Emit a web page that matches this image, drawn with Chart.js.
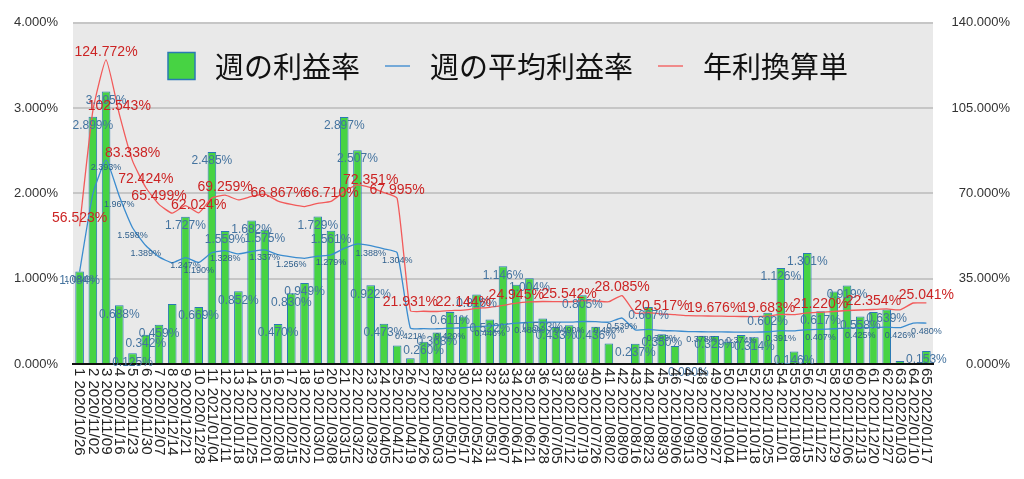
<!DOCTYPE html>
<html>
<head>
<meta charset="utf-8">
<script src="https://cdn.jsdelivr.net/npm/chart.js@4.4.1/dist/chart.umd.min.js"></script>
<style>
  html, body { margin: 0; padding: 0; background: #fff; }
</style>
</head>
<body>
<canvas id="chart" width="1024" height="479"></canvas>
<script>
// week labels
const weeks = [
  "1 2020/10/26", "2 2020/11/02", "3 2020/11/09", "4 2020/11/16", "5 2020/11/23", "6 2020/11/30",
  "7 2020/12/07", "8 2020/12/14", "9 2020/12/21", "10 2020/12/28", "11 2021/01/04", "12 2021/01/11",
  "13 2021/01/18", "14 2021/01/25", "15 2021/02/01", "16 2021/02/08", "17 2021/02/15", "18 2021/02/22",
  "19 2021/03/01", "20 2021/03/08", "21 2021/03/15", "22 2021/03/22", "23 2021/03/29", "24 2021/04/05",
  "25 2021/04/12", "26 2021/04/19", "27 2021/04/26", "28 2021/05/03", "29 2021/05/10", "30 2021/05/17",
  "31 2021/05/24", "32 2021/05/31", "33 2021/06/07", "34 2021/06/14", "35 2021/06/21", "36 2021/06/28",
  "37 2021/07/05", "38 2021/07/12", "39 2021/07/19", "40 2021/07/26", "41 2021/08/02", "42 2021/08/09",
  "43 2021/08/16", "44 2021/08/23", "45 2021/08/30", "46 2021/09/06", "47 2021/09/13", "48 2021/09/20",
  "49 2021/09/27", "50 2021/10/04", "51 2021/10/11", "52 2021/10/18", "53 2021/10/25", "54 2021/11/01",
  "55 2021/11/08", "56 2021/11/15", "57 2021/11/22", "58 2021/11/29", "59 2021/12/06", "60 2021/12/13",
  "61 2021/12/20", "62 2021/12/27", "63 2022/01/03", "64 2022/01/10", "65 2022/01/17"
];

// 週の利益率 (%)
const weeklyRate = [
  1.084, 2.899, 3.195, 0.688, 0.125, 0.342, 0.459, 0.704, 1.727, 0.669,
  2.485, 1.559, 0.852, 1.682, 1.575, 0.470, 0.830, 0.949, 1.729, 1.561,
  2.897, 2.507, 0.922, 0.473, 0.217, 0.066, 0.260, 0.368, 0.611, 0.558,
  0.816, 0.522, 1.146, 0.930, 1.004, 0.533, 0.433, 0.455, 0.805, 0.436,
  0.240, null, 0.237, 0.667, 0.350, 0.210, 0.000, 0.330, 0.329, 0.260,
  0.340, 0.314, 0.602, 1.126, 0.146, 1.301, 0.617, 0.850, 0.919, 0.558,
  0.610, 0.639, 0.035, null, 0.153
];

// 週の平均利益率 (%)
const avgRate = [
  1.084, 1.992, 2.393, 1.967, 1.598, 1.389, 1.256, 1.187, 1.247, 1.190,
  1.307, 1.328, 1.291, 1.319, 1.337, 1.282, 1.256, 1.239, 1.264, 1.279,
  1.356, 1.409, 1.388, 1.349, 1.304, 0.421, 0.415, 0.413, 0.420, 0.425,
  0.437, 0.446, 0.461, 0.478, 0.488, 0.492, 0.491, 0.490, 0.498, 0.496,
  0.490, 0.539, 0.400, 0.405, 0.393, 0.388, 0.380, 0.378, 0.377, 0.375,
  0.374, 0.373, 0.378, 0.391, 0.388, 0.402, 0.407, 0.413, 0.421, 0.425,
  0.429, 0.433, 0.426, 0.480, 0.480
];

// 年利換算単 (%)
const annualRate = [
  56.523, 103.87, 124.772, 102.543, 83.338, 72.424, 65.499, 61.89, 65.02, 62.024,
  68.15, 69.259, 67.32, 68.78, 69.71, 66.867, 65.49, 64.61, 65.91, 66.710,
  70.71, 73.47, 72.351, 70.34, 67.995, 21.931, 21.64, 21.54, 21.90, 22.144,
  22.79, 23.26, 24.04, 24.945, 25.45, 25.65, 25.60, 25.542, 25.97, 25.86,
  25.55, 28.085, 20.86, 21.12, 20.517, 20.23, 19.81, 19.71, 19.676, 19.55,
  19.50, 19.45, 19.683, 20.39, 20.23, 20.96, 21.220, 21.54, 21.95, 22.16,
  22.354, 22.58, 22.21, 25.03, 25.041
];

// which points carry a value label (week numbers)
const barLabelWeeks = [1, 2, 3, 4, 5, 6, 7, 9, 10, 11, 12, 13, 14, 15, 16, 17, 18, 19, 20, 21, 22, 23, 24,
  27, 28, 29, 31, 32, 33, 35, 36, 37, 39, 40, 43, 44, 45, 47, 49, 52, 53, 54, 55, 56, 57, 59, 60, 62, 65];
const avgLabelWeeks = [1, 3, 4, 5, 6, 9, 10, 12, 15, 17, 20, 23, 25, 26, 29, 32, 35, 38, 41, 42, 45, 48,
  51, 54, 57, 60, 63, 65];
const annualLabelWeeks = [1, 3, 4, 5, 6, 7, 10, 12, 16, 20, 23, 25, 26, 30, 34, 38, 42, 45, 49, 53, 57, 61, 65];

const numFont = "'Liberation Sans', Arial, sans-serif";

const plotBackground = {
  id: "plotBackground",
  beforeDraw(chart) {
    const { ctx, chartArea: a } = chart;
    ctx.save();
    ctx.fillStyle = "#e9e9e9";
    ctx.fillRect(a.left, a.top, a.right - a.left, a.bottom - a.top);
    ctx.restore();
  },
};

const valueLabels = {
  id: "valueLabels",
  afterDatasetsDraw(chart) {
    const ctx = chart.ctx;
    function put(dsIndex, weeksList, values, dy, size, color) {
      const meta = chart.getDatasetMeta(dsIndex);
      ctx.font = size + "px " + numFont;
      ctx.fillStyle = color;
      weeksList.forEach(function (w) {
        const el = meta.data[w - 1];
        const v = values[w - 1];
        if (!el || v === null) return;
        ctx.fillText(v.toFixed(3) + "%", el.x, el.y + dy);
      });
    }
    ctx.save();
    ctx.textAlign = "center";
    ctx.textBaseline = "middle";
    put(1, avgLabelWeeks, avgRate, 8, 9, "#2f5f8c");
    put(2, barLabelWeeks, weeklyRate, 9, 12, "#44739f");
    put(0, annualLabelWeeks, annualRate, -8, 14, "#cc2424");
    ctx.restore();
  },
};

const weekTicks = {
  id: "weekTicks",
  afterDraw(chart) {
    const ctx = chart.ctx;
    const x = chart.scales.x;
    ctx.save();
    ctx.font = "15px " + numFont;
    ctx.fillStyle = "#222";
    ctx.textAlign = "left";
    ctx.textBaseline = "middle";
    weeks.forEach(function (w, i) {
      ctx.save();
      ctx.translate(x.getPixelForValue(i), chart.chartArea.bottom + 4);
      ctx.rotate(Math.PI / 2);
      ctx.fillText(w, 0, 0);
      ctx.restore();
    });
    ctx.restore();
  },
};

const topLegend = {
  id: "topLegend",
  afterDraw(chart) {
    const ctx = chart.ctx;
    const ds = chart.data.datasets;
    const y = 66;
    let x = 168;
    ctx.save();
    ctx.font = "29px 'Noto Sans CJK JP', sans-serif";
    ctx.textBaseline = "middle";
    ctx.fillStyle = "#111";
    [2, 1, 0].forEach(function (k) {
      const d = ds[k];
      if (d.type === "line") {
        ctx.strokeStyle = d.legendColor;
        ctx.lineWidth = 2;
        ctx.beginPath();
        ctx.moveTo(x, y);
        ctx.lineTo(x + 25, y);
        ctx.stroke();
        x += 25;
      } else {
        ctx.fillStyle = d.backgroundColor;
        ctx.fillRect(x, y - 13.5, 27, 27);
        ctx.strokeStyle = d.borderColor;
        ctx.lineWidth = 1.5;
        ctx.strokeRect(x, y - 13.5, 27, 27);
        x += 27;
      }
      x += 20;
      ctx.fillStyle = "#111";
      ctx.fillText(d.label, x, y + 1);
      x += ctx.measureText(d.label).width + 25;
    });
    ctx.restore();
  },
};

const ctx = document.getElementById("chart").getContext("2d");
new Chart(ctx, {
  type: "bar",
  data: {
    labels: weeks,
    datasets: [
      {
        type: "line",
        label: "年利換算単",
        data: annualRate,
        yAxisID: "y1",
        borderColor: "#f25a5a",
        legendColor: "#f08a8a",
        borderWidth: 1.3,
        pointRadius: 0,
        tension: 0.15,
        order: 0,
      },
      {
        type: "line",
        label: "週の平均利益率",
        data: avgRate,
        yAxisID: "y",
        borderColor: "#3b8ccf",
        legendColor: "#74a9d8",
        borderWidth: 1.3,
        pointRadius: 0,
        tension: 0.15,
        order: 1,
      },
      {
        label: "週の利益率",
        data: weeklyRate,
        yAxisID: "y",
        backgroundColor: "#47d343",
        borderColor: "#2a79b4",
        borderWidth: 1,
        barPercentage: 0.65,
        categoryPercentage: 1,
        order: 2,
      },
    ],
  },
  options: {
    responsive: false,
    animation: false,
    layout: { padding: { top: 20, right: 14, bottom: 0, left: 0 } },
    plugins: {
      legend: { display: false },
      tooltip: { enabled: false },
    },
    scales: {
      x: {
        grid: { drawOnChartArea: false, drawTicks: false },
        border: { color: "#111", width: 2 },
        ticks: { display: false },
        afterFit: function (scale) { scale.height = 115; },
      },
      y: {
        position: "left",
        min: 0,
        max: 4,
        ticks: {
          stepSize: 1,
          padding: 15,
          color: "#333",
          font: { family: numFont, size: 13 },
          callback: function (v) { return v.toFixed(3) + "%"; },
        },
        grid: { color: "#c6c6c6", lineWidth: 2, drawTicks: false },
        border: { display: false },
        afterFit: function (scale) { scale.width = 73; },
      },
      y1: {
        position: "right",
        min: 0,
        max: 140,
        ticks: {
          stepSize: 35,
          crossAlign: "far",
          color: "#333",
          font: { family: numFont, size: 13 },
          callback: function (v) { return v.toFixed(3) + "%"; },
        },
        grid: { drawOnChartArea: false, drawTicks: false },
        border: { display: false },
        afterFit: function (scale) { scale.width = 77; },
      },
    },
  },
  plugins: [plotBackground, valueLabels, weekTicks, topLegend],
});
</script>
</body>
</html>
